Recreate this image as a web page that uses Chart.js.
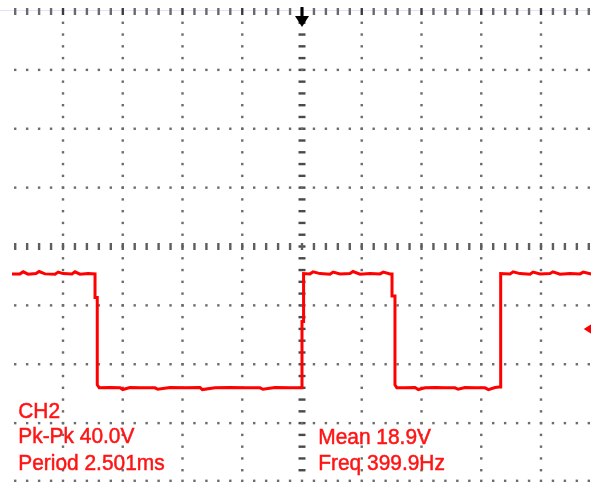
<!DOCTYPE html>
<html lang="en">
  <head>
    <meta charset="UTF-8" />
    <meta name="viewport" content="width=device-width, initial-scale=1.0" />
    <title>CH2 square wave</title>
    <script src="https://cdn.jsdelivr.net/npm/chart.js"></script>
    <style>
      body {
        margin: 0;
        background: #ffffff;
        overflow: hidden;
      }
      canvas {
        display: block;
      }
    </style>
  </head>

  <body>
    <canvas id="scope" width="604" height="484"></canvas>

    <script>
      // trace, time in ms (trigger = 0), level in V
      var timeMs = [
        -3.64, -3.54, -3.5, -3.439, -3.339, -3.3, -3.226, -3.1, -3.06, -3.0, -2.887, -2.85, -2.787, -2.686,
        -2.598, -2.598, -2.57, -2.57, -2.545,
        -2.41, -2.284, -2.25, -2.159, -2.033, -1.845, -1.81, -1.657, -1.469, -1.28, -1.25, -1.092,
        -0.904, -0.715, -0.527, -0.49, -0.339, -0.151, -0.025,
        0.0, 0.0, 0.02, 0.02,
        0.1, 0.14, 0.226, 0.351, 0.39, 0.477, 0.602, 0.64, 0.728, 0.854, 0.979, 1.02, 1.105,
        1.13, 1.13, 1.167, 1.167, 1.19,
        1.293, 1.418, 1.46, 1.544, 1.669, 1.795, 1.92, 1.96, 2.046, 2.172, 2.297, 2.34, 2.423, 2.473,
        2.494, 2.494,
        2.611, 2.65, 2.736, 2.862, 2.9, 2.987, 3.113, 3.15, 3.238, 3.364, 3.49, 3.53, 3.628, 3.75
      ];
      var volts = [
        38.7, 38.7, 39.4, 38.6, 38.8, 39.5, 38.7, 38.6, 39.3, 38.8, 38.7, 39.4, 38.6, 38.8,
        38.7, 30.7, 30.7, 1.0, 0.0,
        0.1, 0.0, -0.6, 0.1, 0.0, 0.0, -0.5, 0.1, 0.0, 0.1, -0.6, 0.0,
        0.1, 0.0, 0.0, -0.5, 0.1, 0.0, 0.0,
        0.0, 22.5, 22.5, 38.8,
        38.7, 39.4, 38.8, 38.6, 39.3, 38.7, 38.8, 39.5, 38.6, 38.8, 38.7, 39.3, 38.7,
        38.7, 31.2, 31.2, 1.0, 0.0,
        0.0, 0.1, -0.6, 0.0, 0.1, 0.0, 0.0, -0.5, 0.1, 0.0, 0.0, -0.6, 0.1, 0.3,
        0.3, 38.8,
        38.7, 39.4, 38.8, 38.6, 39.3, 38.7, 38.8, 39.4, 38.6, 38.8, 38.7, 39.3, 38.7, 38.8
      ];

      // screen settings: 10 x 8 divisions
      var msPerDiv = 0.75;
      var voltsPerDiv = 20;
      var screenCentreV = 48;
      var triggerTimeMs = 0;
      var triggerLevelV = 20;

      // readouts
      var readoutLeft = ["CH2", "Pk-Pk 40.0V", "Period 2.501ms"];
      var readoutRight = ["Mean 18.9V", "Freq 399.9Hz"];

      var xMin = -5 * msPerDiv;
      var xMax = 5 * msPerDiv;
      var yMin = screenCentreV - 4 * voltsPerDiv;
      var yMax = screenCentreV + 4 * voltsPerDiv;

      // dotted graticule, drawn from the chart scales
      const graticule = {
        id: "graticule",
        beforeDatasetsDraw(chart) {
          const ctx = chart.ctx;
          const a = chart.chartArea;
          const x = chart.scales.x;
          const y = chart.scales.y;
          ctx.save();

          // faint line along the top edge
          ctx.fillStyle = "#dfe3fb";
          ctx.fillRect(0, Math.round(a.top) - 1, chart.width, 1);

          // vertical grid lines
          for (let i = 1; i < 10; i++) {
            let px = x.getPixelForValue(xMin + i * msPerDiv);
            for (let j = 1; j < 40; j++) {
              let py = y.getPixelForValue(yMin + (j * voltsPerDiv) / 5);
              if (i == 5) {
                ctx.fillStyle = "#4a4a4a";
                ctx.fillRect(px - 3.5, py - 1.2, 7, 2.4);
              } else {
                ctx.fillStyle = "#6c6c6c";
                ctx.fillRect(px - 1.2, py - 1.2, 2.4, 2.4);
              }
            }
          }

          // horizontal grid lines
          for (let k = 1; k < 8; k++) {
            let py = y.getPixelForValue(yMin + k * voltsPerDiv);
            for (let m = 1; m < 50; m++) {
              let px = x.getPixelForValue(xMin + (m * msPerDiv) / 5);
              if (k == 4) {
                ctx.fillStyle = "#5e5e5e";
                ctx.fillRect(px - 1.2, py - 3.5, 2.4, 7);
              } else {
                ctx.fillStyle = "#6c6c6c";
                ctx.fillRect(px - 1.2, py - 1.2, 2.4, 2.4);
              }
            }
          }

          // top and bottom edges
          for (let m = 1; m < 50; m++) {
            let px = x.getPixelForValue(xMin + (m * msPerDiv) / 5);
            ctx.fillStyle = m % 5 == 0 ? "#3c3c3c" : "#6a6a6a";
            ctx.fillRect(px - 1.2, a.top - 3, 2.4, 7);
            ctx.fillStyle = "#6c6c6c";
            ctx.fillRect(px - 1.2, a.bottom - 2.4, 2.4, 2.4);
          }

          ctx.restore();
        },
        afterDatasetsDraw(chart) {
          const ctx = chart.ctx;
          const a = chart.chartArea;
          const x = chart.scales.x;
          const y = chart.scales.y;
          ctx.save();

          // trigger position arrow
          let tx = x.getPixelForValue(triggerTimeMs);
          ctx.fillStyle = "#000000";
          ctx.fillRect(tx - 1.5, a.top - 4, 3, 10);
          ctx.beginPath();
          ctx.moveTo(tx - 7, a.top + 5);
          ctx.lineTo(tx + 7, a.top + 5);
          ctx.lineTo(tx, a.top + 16);
          ctx.closePath();
          ctx.fill();

          // trigger level marker
          let ty = y.getPixelForValue(triggerLevelV);
          ctx.fillStyle = "#ff0000";
          ctx.beginPath();
          ctx.moveTo(a.right - 17, ty);
          ctx.lineTo(a.right - 6, ty - 7);
          ctx.lineTo(a.right - 6, ty + 7);
          ctx.closePath();
          ctx.fill();

          // measurement readouts
          ctx.fillStyle = "#ff1414";
          ctx.strokeStyle = "#ff1414";
          ctx.lineWidth = 0.5;
          ctx.font = '22px "Liberation Sans", Arial, sans-serif';
          ctx.textBaseline = "alphabetic";
          let baseLeft = [418, 443, 470];
          let baseRight = [444, 470];
          for (let i = 0; i < readoutLeft.length; i++) {
            ctx.save();
            ctx.translate(a.left + 15, baseLeft[i]);
            ctx.scale(0.95, 1);
            ctx.fillText(readoutLeft[i], 0, 0);
            ctx.strokeText(readoutLeft[i], 0, 0);
            ctx.restore();
          }
          for (let i = 0; i < readoutRight.length; i++) {
            ctx.save();
            ctx.translate(a.left + 315, baseRight[i]);
            ctx.scale(0.95, 1);
            ctx.fillText(readoutRight[i], 0, 0);
            ctx.strokeText(readoutRight[i], 0, 0);
            ctx.restore();
          }
          ctx.restore();
        },
      };

      var pontos = [];
      for (let i = 0; i < timeMs.length; i++) {
        pontos.push({ x: timeMs[i], y: volts[i] });
      }

      const config = {
        type: "line",
        data: {
          datasets: [
            {
              label: "CH2",
              data: pontos,
              borderColor: "#ff0000",
              borderWidth: 3,
              pointRadius: 0,
              tension: 0,
              fill: false,
            },
          ],
        },
        options: {
          responsive: false,
          animation: false,
          layout: {
            padding: { left: 3.25, right: 3.25, top: 11, bottom: 2 },
          },
          plugins: {
            legend: { display: false },
            tooltip: { enabled: false },
          },
          scales: {
            x: { type: "linear", min: xMin, max: xMax, display: false },
            y: { type: "linear", min: yMin, max: yMax, display: false },
          },
        },
        plugins: [graticule],
      };

      var scopeChart = new Chart(document.getElementById("scope"), config);
    </script>
  </body>
</html>
